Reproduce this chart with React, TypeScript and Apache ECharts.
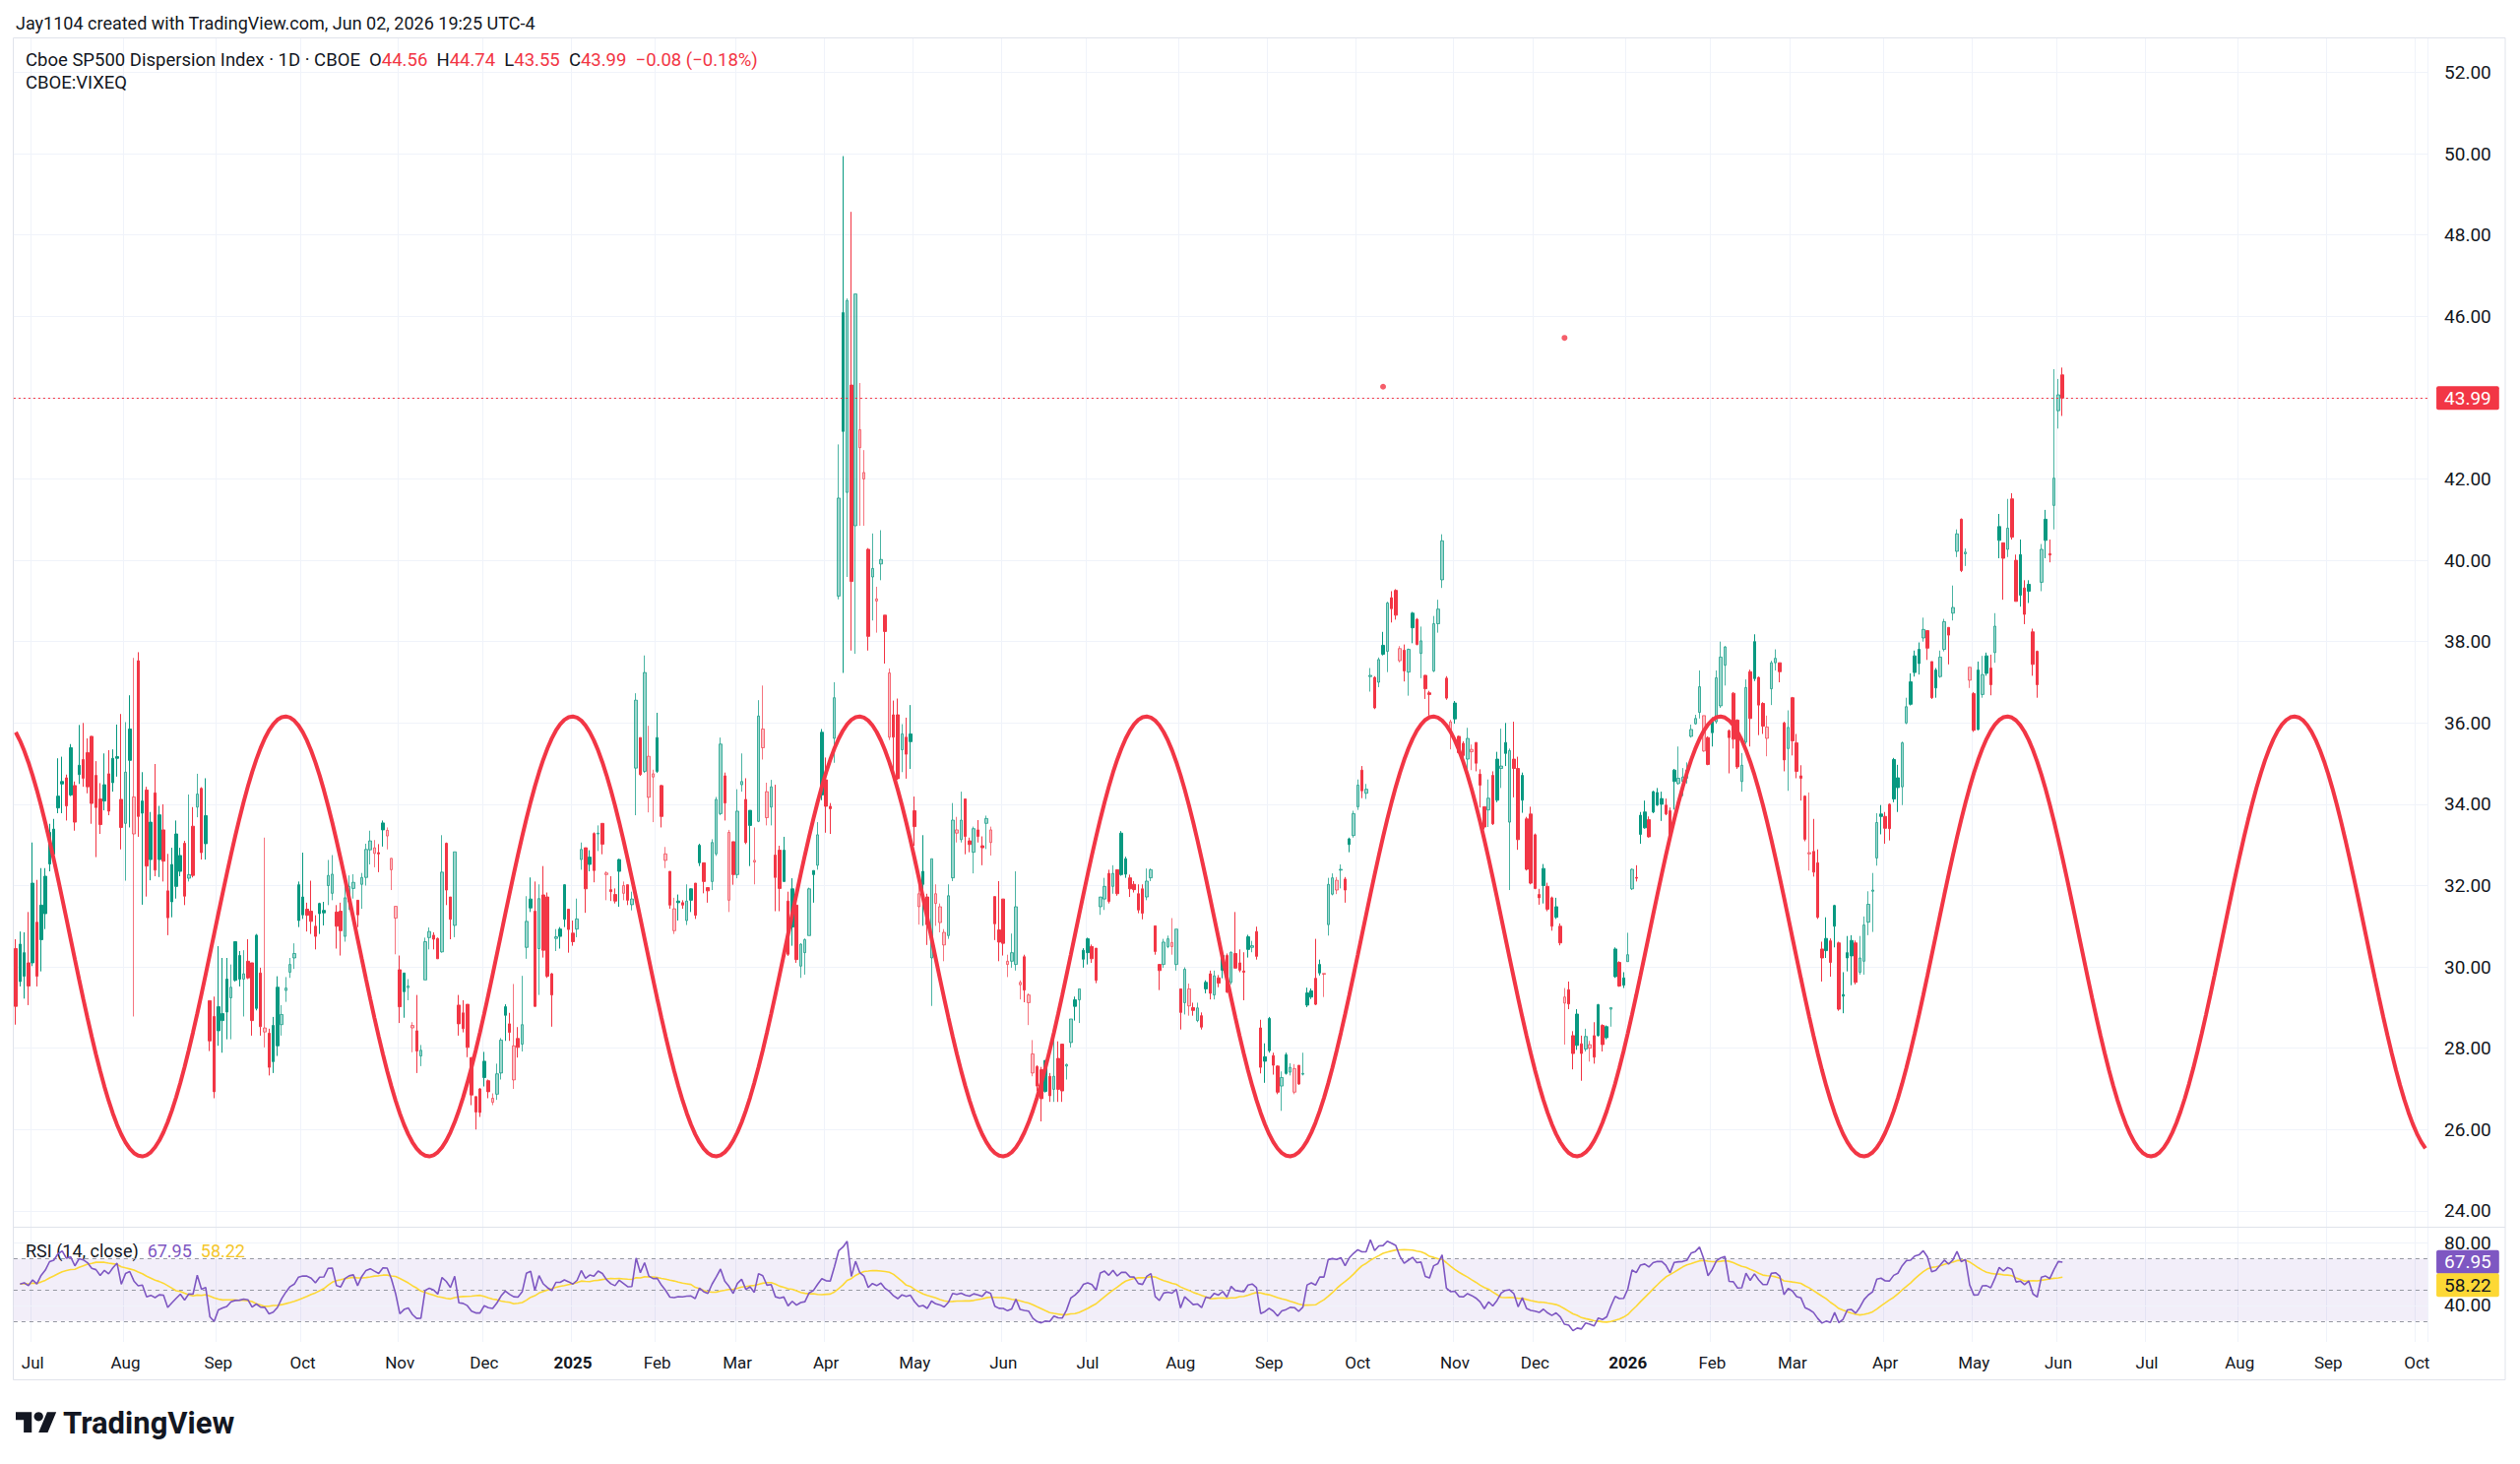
import React, { useEffect, useRef } from "react";
import * as echarts from "echarts";

// ---------- styling constants ----------
const FONT = "Roboto, 'Liberation Sans', Arial, sans-serif";
const TEXT = "#131722";
const UP = "#089981";
const DOWN = "#F23645";
const UP_LIGHT = "rgba(8,153,129,0.72)";
const DOWN_LIGHT = "rgba(242,54,69,0.68)";
const UP_FILL = "rgba(8,153,129,0.4)";
const DOWN_FILL = "rgba(242,54,69,0.32)";
const GRID_COLOR = "#F0F3FA";
const RSI_COLOR = "#7E57C2";
const RSI_MA_COLOR = "#FDD835";

// ---------- calendar ----------
const START_DATE = "2024-06-25";
const END_DATE = "2026-10-05";
const HOLIDAYS = [
  "2024-07-04", "2024-09-02", "2024-11-28", "2024-12-25",
  "2025-01-01", "2025-01-09", "2025-01-20", "2025-02-17", "2025-04-18", "2025-05-26",
  "2025-06-19", "2025-07-04", "2025-09-01", "2025-11-27", "2025-12-25",
  "2026-01-01", "2026-01-19", "2026-02-16", "2026-04-03", "2026-05-25", "2026-06-19",
  "2026-07-03", "2026-09-07",
];
const MONTHS = ["Jan", "Feb", "Mar", "Apr", "May", "Jun", "Jul", "Aug", "Sep", "Oct", "Nov", "Dec"];

// ---------- daily OHLC, CBOE:VIXEQ, from 2024-06-25 to 2026-06-02 ----------
const opens = [
  30.45, 30.56, 30.35, 30.1,
  32.06, 31.1, 31.52, 32.23, 33.31, 33.39, 34.2, 34.56, 34.65, 35.39, 34.46, 34.96, 35.1, 35.27, 35.67, 34.71, 34.13, 34.48, 34.75, 35.13, 35.17, 34.12,
  33.53, 35.85, 33.27, 37.53, 34.08, 34.35, 33.56, 34.28, 33.74, 33.37, 31.87, 32.52, 33.27, 32.74, 33.04, 32.18, 33.46, 33.93, 34.39, 33.72, 29.17, 28.78,
  29.02, 28.85, 29.7, 29.24, 30.62, 30.28, 29.7, 30.14, 30.1, 30.78, 29.85, 28.4, 28.37, 28.56, 29.5, 28.58, 29.42, 29.87, 30.22, 32.02,
  31.72, 31.42, 31.37, 31.0, 31.56, 31.39, 32.0, 31.81, 31.35, 31.37, 30.75, 31.6, 31.93, 31.64, 32.03, 32.2, 32.88, 32.79, 32.81, 33.54, 33.22, 32.39, 31.2,
  29.93, 29.85, 29.49, 28.5, 28.43, 27.81, 29.68, 30.72, 30.78, 30.7, 30.37, 33.04, 31.72, 31.02, 29.06, 28.87, 29.08, 27.77, 26.81, 27.0,
  27.68, 27.2, 26.67, 26.87, 27.39, 29.02, 28.6, 27.22, 28.24, 28.1, 30.48, 31.67, 31.37, 30.45, 31.77, 31.72, 29.83, 30.7, 30.93, 32.02, 31.42,
  30.83, 30.93, 32.64, 32.93, 32.7, 33.28, 33.27, 33.53, 32.27, 31.9, 31.78, 32.64, 31.81, 32.02, 31.53, 34.89, 35.64, 34.81, 34.17, 34.67,
  35.64, 34.46, 32.62, 32.35, 30.89, 31.62, 31.58, 31.14, 31.92, 32.06, 32.99, 32.56, 31.95, 32.1, 32.78, 33.77, 34.7, 31.64, 33.08,
  32.27, 34.48, 34.12, 33.85, 32.58, 33.58, 35.39, 33.67, 33.93, 32.75, 32.87, 32.87, 31.62, 31.92, 31.52, 30.02, 30.35, 30.77, 32.37, 32.5, 35.77,
  34.6, 33.95, 35.62, 39.12, 46.09, 41.67, 44.31, 40.85, 42.77, 42.0, 40.27, 39.59, 39.0, 39.91, 38.65, 35.65, 36.2, 36.2, 35.34, 35.65, 35.73,
  33.84, 31.48, 32.35, 31.72, 30.22, 31.56, 31.09, 30.54, 30.77, 32.19, 33.29, 33.13, 34.13, 33.1, 32.82, 33.37, 32.98, 33.53, 33.06, 31.73, 30.91,
  31.67, 30.06, 30.14, 30.06, 29.56, 30.25, 29.12, 27.39, 27.55, 27.47, 27.7, 27.31, 26.99, 27.75, 28.1, 27.56, 28.14, 29.19, 29.19, 30.41,
  30.69, 30.5, 30.46, 31.48, 31.67, 32.3, 31.98, 32.39, 33.29, 32.66, 32.19, 32.03, 31.8, 31.92, 31.72, 32.19, 31.01, 30.06, 30.06, 30.5, 30.5, 30.06,
  29.46, 29.12, 29.04, 29.0, 28.68, 28.8, 29.62, 29.83, 29.31, 29.73, 30.28, 30.28, 29.62, 30.33, 30.1, 29.9, 30.74, 30.48, 30.87, 28.5, 27.79,
  28.73, 27.82, 27.56, 27.07, 27.84, 27.41, 26.92, 27.58, 27.36, 29.36, 29.41, 29.72, 30.06, 29.82, 31.04, 31.79, 31.89, 32.38, 32.16, 33.15, 33.23,
  33.94, 34.84, 34.27, 37.14, 37.12, 37.0, 37.91, 37.76, 39.08, 39.26, 37.53, 37.79, 37.25, 38.7, 38.55, 37.71, 37.17, 36.74, 37.28, 38.44, 39.52, 37.1, 35.83,
  36.49, 35.67, 35.5, 35.11, 35.29, 35.52, 34.74, 33.94, 33.86, 34.71, 35.11, 34.88, 35.52, 33.56, 35.11, 34.88, 34.71, 33.64, 33.76,
  33.25, 31.78, 32.42, 31.98, 31.7, 31.48, 31.0, 29.11, 29.44, 28.31, 28.84, 28.11, 27.98, 28.0, 28.31, 29.07, 28.56, 28.53, 28.96, 30.44, 30.11, 29.73,
  30.13, 31.92, 32.2, 33.73, 33.81, 33.62, 34.31, 34.29, 34.14, 33.98, 33.84, 34.84, 34.51, 34.56, 34.64, 35.67, 35.98, 36.26, 35.31, 35.64,
  36.03, 36.03, 36.42, 37.42, 35.81, 36.73, 36.07, 34.56, 35.53, 37.26, 38.0, 37.12, 36.48, 35.62, 36.84, 37.48, 37.48, 36.0, 35.37,
  36.62, 35.51, 34.7, 34.2, 32.78, 32.84, 32.56, 30.44, 30.7, 30.64, 31.51, 30.59, 29.32, 30.35, 30.65, 30.59, 29.87, 30.14, 31.1, 31.86, 32.68, 33.76,
  33.7, 34.0, 35.1, 34.65, 34.43, 36.0, 37.01, 37.65, 37.81, 38.09, 38.27, 37.51, 37.3, 37.14, 37.81, 38.35, 38.7, 40.22, 41.01, 40.16, 37.05,
  36.72, 37.3, 36.7, 37.65, 37.35, 37.73, 40.83, 40.43, 40.27, 41.51, 40.0, 40.14, 39.32, 39.41, 38.24, 37.76, 39.46, 41.01, 40.16, 41.35,
  43.68, 44.56,
];

const highs = [
  30.68, 30.87, 30.85, 31.35,
  33.06, 32.14, 32.43, 32.43, 33.52, 33.64, 35.13, 35.17, 34.73, 35.48, 34.56, 35.95, 36.0, 35.62, 35.68, 35.06, 34.52, 35.25, 35.33, 35.35, 35.96, 36.22,
  36.02, 36.68, 37.6, 37.74, 34.79, 34.43, 33.81, 34.99, 33.96, 34.0, 32.78, 32.93, 33.6, 32.93, 33.1, 34.24, 33.93, 34.75, 34.42, 34.64, 29.17, 29.27,
  30.51, 30.22, 30.22, 30.06, 30.62, 30.39, 30.41, 30.68, 30.1, 30.81, 29.98, 33.18, 28.48, 28.77, 29.77, 29.06, 29.75, 30.22, 30.58, 32.1,
  32.81, 31.58, 32.12, 31.27, 31.58, 31.6, 32.63, 32.75, 31.52, 31.58, 32.0, 32.25, 32.28, 31.64, 32.31, 33.03, 33.35, 33.12, 33.02, 33.6, 33.43, 32.68, 31.49,
  30.28, 29.85, 29.7, 28.64, 29.31, 28.08, 30.72, 30.97, 30.85, 30.72, 33.24, 33.06, 31.72, 32.83, 29.31, 29.18, 29.08, 27.77, 26.81, 27.02,
  27.91, 27.23, 26.89, 27.62, 28.25, 29.08, 28.87, 29.58, 28.52, 29.78, 31.74, 32.2, 32.1, 32.03, 32.48, 31.83, 29.85, 30.93, 30.98, 32.03, 31.43,
  31.14, 31.68, 33.06, 32.93, 32.87, 33.31, 33.48, 33.53, 32.35, 32.23, 31.93, 32.66, 32.1, 32.02, 31.85, 36.73, 35.64, 37.66, 35.93, 34.85,
  36.25, 34.48, 32.95, 32.35, 31.7, 31.78, 31.64, 32.03, 31.93, 32.06, 33.03, 32.56, 31.95, 33.14, 34.18, 35.64, 34.78, 33.37, 33.08,
  34.37, 35.25, 34.64, 33.85, 33.43, 36.56, 36.92, 34.53, 34.6, 34.48, 32.98, 33.2, 31.85, 32.18, 31.52, 30.58, 30.7, 31.95, 32.37, 33.56, 35.85,
  35.15, 34.03, 37.0, 42.85, 49.94, 46.44, 48.57, 46.55, 44.36, 42.71, 40.3, 40.66, 39.35, 40.74, 38.65, 37.34, 36.55, 36.6, 35.97, 36.13, 36.44,
  34.19, 32.03, 33.24, 31.8, 32.66, 32.03, 31.56, 30.93, 32.03, 34.03, 33.69, 34.31, 34.13, 33.18, 33.45, 33.61, 33.21, 33.72, 33.45, 31.73, 32.11,
  31.67, 30.3, 30.82, 32.35, 29.67, 30.3, 29.35, 28.2, 27.58, 27.54, 27.7, 27.39, 28.33, 28.17, 28.1, 27.62, 28.72, 29.27, 29.46, 30.46,
  30.72, 30.55, 30.46, 31.72, 32.19, 32.39, 32.5, 32.4, 33.34, 32.71, 32.27, 32.11, 32.03, 32.03, 32.42, 32.42, 31.01, 30.06, 30.69, 30.77, 31.2, 30.93,
  29.46, 29.99, 29.59, 29.12, 29.12, 28.88, 29.67, 29.91, 29.91, 29.8, 30.33, 30.33, 30.38, 31.35, 30.43, 30.36, 30.79, 30.64, 30.99, 28.7, 28.12,
  28.77, 27.89, 27.58, 27.43, 27.89, 27.63, 27.61, 27.58, 27.89, 29.49, 29.47, 30.69, 30.18, 29.84, 32.19, 32.3, 32.21, 32.52, 32.21, 33.18, 33.84,
  34.61, 34.94, 34.5, 37.35, 37.15, 37.61, 38.24, 38.98, 39.24, 39.29, 37.89, 37.93, 37.83, 38.73, 38.58, 38.37, 37.18, 36.79, 38.63, 39.03, 40.64, 37.15, 36.08,
  36.54, 35.69, 35.55, 35.88, 35.47, 35.52, 34.86, 33.94, 34.61, 34.81, 35.29, 35.86, 36.0, 35.37, 36.03, 35.17, 34.78, 33.69, 33.94,
  33.28, 31.92, 32.53, 32.07, 31.73, 31.7, 31.07, 29.48, 29.64, 28.42, 28.96, 28.31, 28.48, 28.18, 28.64, 29.09, 28.59, 28.56, 29.0, 30.48, 30.14, 29.87,
  30.84, 32.42, 32.5, 33.81, 34.09, 33.7, 34.33, 34.4, 34.31, 34.14, 33.92, 34.87, 35.42, 34.89, 35.03, 35.96, 36.2, 37.29, 36.18, 35.67,
  36.14, 37.29, 38.0, 37.89, 35.84, 36.76, 36.09, 35.26, 37.07, 37.31, 38.18, 37.14, 36.51, 36.18, 37.53, 37.81, 37.48, 36.03, 36.31,
  36.64, 35.73, 34.96, 34.22, 34.29, 33.64, 32.89, 30.62, 31.22, 30.7, 31.53, 30.62, 29.87, 30.76, 30.78, 30.65, 30.76, 31.24, 31.86, 32.31, 33.78, 33.98,
  33.81, 34.02, 35.14, 34.97, 35.54, 36.62, 37.22, 37.78, 37.98, 38.59, 38.27, 37.51, 37.35, 37.78, 38.56, 38.35, 39.38, 40.76, 41.03, 40.29, 37.37,
  36.76, 37.51, 37.65, 37.73, 37.68, 38.7, 41.14, 40.43, 41.51, 41.65, 40.14, 40.51, 39.51, 39.51, 38.32, 37.78, 40.4, 41.24, 40.51, 44.7,
  44.46, 44.74,
];

const lows = [
  28.58, 29.52, 29.22, 29.06,
  30.02, 29.52, 29.89, 30.93, 32.35, 32.73, 33.78, 33.78, 33.6, 34.2, 33.35, 34.5, 34.43, 34.27, 33.52, 32.7, 33.27, 33.85, 33.73, 34.31, 34.68, 32.89,
  32.12, 33.43, 28.78, 33.2, 31.53, 31.73, 32.13, 32.23, 32.21, 32.1, 30.78, 31.22, 31.68, 32.23, 31.52, 32.1, 32.2, 33.68, 32.64, 32.64, 27.93, 26.77,
  28.06, 27.89, 28.22, 28.22, 29.64, 29.52, 28.78, 29.7, 28.31, 28.93, 28.31, 28.02, 27.33, 27.39, 27.81, 28.31, 29.14, 29.73, 29.95, 30.98,
  31.18, 30.87, 30.81, 30.43, 30.81, 31.02, 31.52, 31.64, 30.45, 30.28, 30.62, 31.4, 31.68, 30.98, 31.43, 32.0, 32.52, 32.45, 32.33, 32.96, 32.89, 31.89, 30.31,
  28.62, 28.75, 29.18, 27.9, 27.39, 27.56, 29.68, 30.43, 30.43, 30.2, 30.35, 31.52, 30.68, 30.73, 28.31, 28.39, 27.78, 26.6, 26.0, 26.31,
  27.06, 26.77, 26.6, 26.73, 27.23, 28.18, 28.18, 27.0, 27.77, 27.92, 30.2, 31.35, 29.02, 29.31, 30.23, 29.73, 28.53, 30.39, 30.45, 30.98, 30.35,
  30.52, 30.73, 32.39, 31.33, 32.35, 32.08, 32.85, 32.77, 31.64, 31.62, 31.56, 31.48, 31.64, 31.52, 31.39, 33.73, 34.7, 34.77, 33.8, 33.56,
  34.77, 33.43, 32.43, 31.43, 30.81, 31.14, 31.43, 31.03, 31.35, 31.18, 32.48, 31.81, 31.58, 31.89, 32.73, 33.73, 33.6, 31.35, 32.02,
  32.18, 34.31, 33.02, 32.48, 32.03, 33.56, 35.1, 33.48, 33.48, 31.37, 31.37, 32.1, 30.27, 30.52, 30.1, 29.73, 29.81, 30.77, 31.58, 32.39, 34.1,
  33.3, 33.27, 35.02, 39.04, 37.23, 39.59, 37.78, 37.7, 40.85, 40.85, 37.78, 38.52, 38.22, 39.51, 37.46, 35.58, 34.63, 34.6, 34.79, 34.63, 34.87,
  32.98, 31.04, 31.01, 30.54, 29.04, 31.01, 30.85, 30.14, 30.69, 32.11, 33.06, 33.06, 32.77, 32.82, 32.3, 33.06, 32.5, 32.9, 32.74, 30.66, 30.14,
  30.28, 29.75, 29.98, 29.91, 29.2, 29.13, 28.57, 27.31, 26.94, 26.2, 26.91, 26.68, 26.68, 26.68, 26.68, 27.23, 28.02, 28.68, 28.62, 29.98,
  30.06, 30.1, 29.6, 31.28, 31.4, 31.56, 31.8, 31.75, 32.24, 32.19, 31.72, 31.83, 31.32, 31.17, 31.64, 32.11, 30.3, 29.43, 29.98, 30.46, 30.3, 29.91,
  28.46, 28.83, 28.8, 28.8, 28.64, 28.46, 29.35, 29.2, 29.2, 29.5, 29.72, 29.36, 29.57, 29.97, 29.87, 29.18, 30.23, 30.36, 30.18, 27.38, 27.15,
  27.89, 27.35, 26.87, 26.46, 27.35, 27.33, 26.87, 27.1, 27.33, 29.01, 29.21, 29.06, 29.79, 29.26, 30.77, 31.76, 31.79, 31.93, 31.58, 32.82, 33.18,
  33.86, 34.15, 34.13, 36.77, 36.34, 36.88, 37.66, 37.25, 38.47, 38.54, 37.49, 37.02, 36.67, 37.96, 37.91, 37.1, 36.59, 36.18, 37.25, 38.22, 39.32, 36.57, 35.35,
  35.98, 35.25, 35.0, 34.86, 34.84, 34.81, 33.92, 33.38, 33.44, 33.49, 34.05, 34.4, 34.94, 31.89, 34.17, 32.88, 33.79, 32.37, 32.03,
  31.91, 31.53, 31.56, 31.37, 30.89, 31.18, 30.53, 28.09, 28.96, 27.48, 27.96, 27.2, 27.92, 27.67, 27.62, 28.29, 27.92, 28.22, 28.53, 29.73, 29.51, 29.48,
  30.13, 31.89, 32.1, 33.03, 33.4, 33.18, 33.78, 33.96, 33.59, 33.73, 33.14, 33.87, 34.48, 34.2, 34.51, 35.64, 35.96, 36.11, 35.29, 34.96,
  35.42, 35.98, 36.37, 36.92, 34.76, 35.37, 34.87, 34.31, 35.48, 35.42, 37.03, 35.7, 35.73, 35.18, 36.44, 37.29, 37.0, 34.81, 34.33,
  35.2, 34.64, 34.09, 33.09, 32.37, 32.22, 31.18, 29.64, 30.22, 29.76, 30.48, 28.92, 28.86, 29.89, 29.55, 29.57, 29.81, 29.81, 30.78, 30.86, 32.49, 33.26,
  33.03, 33.11, 34.05, 33.81, 33.98, 35.97, 36.43, 37.14, 37.19, 38.0, 37.55, 36.59, 36.62, 37.11, 37.76, 37.44, 38.52, 40.08, 39.71, 39.86, 36.86,
  35.78, 35.82, 36.62, 37.16, 36.68, 37.48, 40.05, 39.03, 40.08, 40.51, 38.99, 38.86, 38.43, 38.95, 37.16, 36.62, 39.24, 40.05, 39.95, 40.76,
  43.24, 43.55,
];

const closes = [
  29.03, 29.64, 29.77, 29.53,
  30.1, 29.77, 30.67, 31.31, 32.53, 32.77, 33.91, 34.5, 33.96, 34.23, 33.56, 34.73, 34.64, 34.43, 34.02, 33.92, 33.5, 34.08, 33.83, 34.53, 35.13, 33.43,
  34.79, 35.08, 34.18, 33.7, 33.78, 32.48, 32.64, 32.38, 32.64, 32.6, 31.21, 31.6, 31.98, 32.35, 31.74, 32.27, 32.25, 34.25, 32.81, 33.03, 28.18, 26.93,
  28.43, 28.68, 28.89, 29.5, 29.67, 29.7, 29.83, 29.73, 28.68, 28.98, 28.53, 28.5, 27.53, 27.67, 28.06, 28.83, 29.48, 30.06, 30.33, 31.14,
  31.28, 31.27, 31.12, 30.75, 31.31, 31.33, 32.25, 32.28, 31.0, 30.89, 31.7, 31.98, 32.08, 31.28, 32.2, 32.89, 33.1, 32.93, 32.78, 33.37, 33.36, 32.67, 31.49,
  29.02, 29.39, 29.53, 28.56, 27.93, 27.95, 30.62, 30.87, 30.68, 30.2, 32.33, 31.89, 31.17, 32.83, 28.6, 28.48, 28.02, 26.85, 26.43, 26.42,
  27.28, 26.93, 26.77, 27.37, 28.2, 28.81, 28.39, 28.06, 28.02, 28.58, 31.12, 31.45, 29.03, 31.68, 30.41, 29.77, 29.31, 30.74, 30.75, 31.17, 30.92,
  30.62, 31.18, 32.89, 31.92, 32.52, 32.37, 33.29, 33.02, 32.31, 31.85, 31.62, 32.35, 32.0, 31.64, 31.67, 36.56, 34.73, 37.24, 35.18, 34.75,
  34.81, 33.7, 32.78, 31.52, 31.43, 31.58, 31.52, 31.62, 31.64, 31.27, 32.56, 32.1, 31.87, 33.06, 34.12, 35.48, 34.03, 33.31, 32.27,
  33.83, 34.56, 33.06, 33.48, 32.62, 36.17, 35.85, 34.31, 34.43, 32.2, 31.93, 32.1, 30.31, 30.98, 30.18, 30.56, 30.67, 31.92, 32.27, 33.25, 34.23,
  33.95, 33.89, 36.62, 41.53, 43.17, 46.39, 39.48, 46.55, 43.21, 42.16, 38.13, 39.8, 39.05, 40.02, 38.25, 37.23, 35.65, 34.63, 35.73, 35.23, 35.54,
  33.45, 31.8, 32.03, 31.04, 32.66, 31.8, 31.48, 30.85, 31.75, 33.61, 33.37, 33.61, 33.21, 33.01, 33.4, 33.21, 32.93, 33.65, 33.37, 31.06, 30.61,
  30.58, 30.14, 30.35, 31.48, 29.62, 29.43, 29.31, 27.86, 27.07, 26.76, 26.94, 26.83, 27.31, 26.99, 26.95, 27.6, 28.72, 29.03, 29.46, 30.19,
  30.35, 30.2, 29.67, 31.72, 31.98, 31.61, 32.3, 31.8, 32.27, 32.28, 31.92, 31.9, 31.4, 31.32, 32.11, 32.39, 30.38, 29.91, 30.61, 30.69, 30.6, 30.93,
  28.88, 29.94, 29.46, 28.93, 28.99, 28.52, 29.46, 29.35, 29.78, 29.6, 29.92, 29.38, 30.36, 29.97, 29.92, 29.87, 30.43, 30.52, 30.26, 27.53, 27.68,
  27.94, 27.58, 26.92, 27.28, 27.38, 27.53, 27.5, 27.12, 27.38, 29.06, 29.26, 29.08, 29.85, 29.84, 32.03, 32.19, 32.13, 32.4, 31.89, 33.01, 33.77,
  34.47, 34.33, 34.37, 37.17, 36.37, 37.56, 37.69, 38.95, 38.81, 38.65, 37.83, 37.28, 37.81, 38.34, 37.93, 38.02, 36.84, 36.7, 38.44, 38.8, 40.48, 36.61, 36.03,
  36.1, 35.27, 35.2, 35.62, 35.35, 35.01, 34.47, 33.44, 34.15, 33.52, 34.1, 34.94, 35.25, 35.32, 34.88, 33.13, 34.1, 32.4, 32.06,
  31.93, 31.7, 32.0, 31.42, 31.0, 31.22, 30.59, 29.26, 29.09, 27.87, 28.07, 27.87, 28.29, 28.09, 27.78, 28.31, 28.09, 28.26, 29.0, 29.76, 29.53, 29.55,
  30.3, 32.4, 32.18, 33.26, 33.42, 33.2, 33.81, 33.98, 34.0, 33.76, 33.26, 34.56, 34.64, 34.67, 34.84, 35.84, 36.11, 36.89, 36.18, 34.98,
  35.76, 37.11, 37.62, 37.87, 35.64, 35.6, 34.92, 34.96, 36.87, 36.11, 37.09, 36.44, 35.92, 35.9, 37.48, 37.59, 37.26, 35.09, 35.89,
  35.56, 34.81, 34.64, 33.14, 32.81, 32.33, 31.22, 30.22, 30.4, 30.11, 31.0, 28.96, 29.28, 30.22, 30.27, 29.62, 30.22, 31.03, 31.54, 31.89, 33.55, 33.7,
  33.41, 33.4, 34.13, 34.41, 35.51, 36.4, 36.46, 37.24, 37.46, 38.3, 37.84, 36.62, 36.86, 37.62, 38.49, 38.16, 38.84, 40.65, 39.75, 40.2, 37.37,
  35.82, 35.84, 37.19, 37.22, 36.94, 38.38, 40.49, 40.05, 40.79, 40.57, 38.99, 39.14, 38.67, 39.24, 37.44, 36.94, 40.27, 40.49, 40.13, 42.02,
  44.07, 43.99,
];

// isolated red dots above the candles
const dotDates = ["2025-10-09", "2025-12-10"];
const dotValues = [44.27, 45.47];

// sine-wave drawing (anchored on its crests)
const SINE_CREST_BAR = 63.88;
const SINE_PERIOD_BARS = 68.01;
const SINE_HIGH = 36.16;
const SINE_LOW = 25.34;

// RSI pane
const RSI_LENGTH = 14;
const RSI_MA_LENGTH = 14;
const RSI_LAST = 67.95;
const RSI_MA_LAST = 58.22;

// axis ticks (44.00 is covered by the last-price tag)
const priceGridTicks = [24, 26, 28, 30, 32, 34, 36, 38, 40, 42, 44, 46, 48, 50, 52];
const priceLabelTicks = [24, 26, 28, 30, 32, 34, 36, 38, 40, 42, 46, 48, 50, 52];
const rsiTicks = [40, 80];
const rsiLevels = [70, 50, 30];

const TV_LOGO_PATH = "M14 22H7V11H0V4h14v18zM28 22h-8l7.5-18h8L28 22z";
echarts.graphic.registerShape("tvlogo", echarts.graphic.extendPath(TV_LOGO_PATH, {}));

// ---------- layout ----------
const W = 2560;
const H = 1487;
const GRID_LEFT = 13.9;
const BAR_STEP = 4.287;
const PANE_TOP = 38;
const PANE_SPLIT = 1246;
const RSI_BOTTOM = 1363;
const FRAME_RIGHT = 2545;
const FRAME_BOTTOM = 1401.5;

function buildDates(): string[] {
  const out: string[] = [];
  const hol = new Set(HOLIDAYS);
  const [sy, sm, sd] = START_DATE.split("-").map(Number);
  const [ey, em, ed] = END_DATE.split("-").map(Number);
  const end = Date.UTC(ey, em - 1, ed);
  for (let t = Date.UTC(sy, sm - 1, sd); t <= end; t += 86400000) {
    const d = new Date(t);
    const wd = d.getUTCDay();
    if (wd === 0 || wd === 6) continue;
    const s = d.toISOString().slice(0, 10);
    if (hol.has(s)) continue;
    out.push(s);
  }
  return out;
}

// Wilder RSI; the averages start neutral (equal gain / loss) since no earlier history is available
function rsiSeries(values: number[], length: number): (number | null)[] {
  const out: (number | null)[] = [null];
  let absSum = 0;
  const warm = Math.min(length, values.length - 1);
  for (let i = 1; i <= warm; i++) absSum += Math.abs(values[i] - values[i - 1]);
  let g = absSum / warm / 2;
  let l = g;
  for (let i = 1; i < values.length; i++) {
    const ch = values[i] - values[i - 1];
    g += (Math.max(ch, 0) - g) / length;
    l += (Math.max(-ch, 0) - l) / length;
    out.push(l === 0 ? 100 : +(100 - 100 / (1 + g / l)).toFixed(3));
  }
  return out;
}

function smaSeries(values: (number | null)[], length: number): (number | null)[] {
  return values.map((_, i) => {
    const win = values.slice(Math.max(0, i - length + 1), i + 1).filter((v) => v != null) as number[];
    if (!win.length) return null;
    return +(win.reduce((a, b) => a + b, 0) / win.length).toFixed(3);
  });
}

export default function App() {
  const ref = useRef<HTMLDivElement>(null);

  useEffect(() => {
    if (!ref.current) return;
    const chart = echarts.init(ref.current, null, { renderer: "svg", width: W, height: H });

    const dates = buildDates();
    const n = dates.length;
    const gridWidth = n * BAR_STEP;
    const monthStart = dates.map((d, i) => i > 0 && d.slice(0, 7) !== dates[i - 1].slice(0, 7));

    const candleData = closes.map((c, i) => {
      const o = opens[i];
      const prev = i > 0 ? closes[i - 1] : o;
      const rising = c >= prev;
      const hollow = c > o;
      const fill = hollow ? (rising ? UP_FILL : DOWN_FILL) : rising ? UP : DOWN;
      const border = hollow ? (rising ? UP_LIGHT : DOWN_LIGHT) : rising ? UP : DOWN;
      return {
        value: [o, c, lows[i], highs[i]],
        itemStyle: { color: fill, color0: fill, borderColor: border, borderColor0: border },
      };
    });

    const mid = (SINE_HIGH + SINE_LOW) / 2;
    const amp = (SINE_HIGH - SINE_LOW) / 2;
    const sineData = dates.map((_, i) => +(mid + amp * Math.cos((2 * Math.PI * (i - SINE_CREST_BAR)) / SINE_PERIOD_BARS)).toFixed(3));

    const rsi = rsiSeries(closes, RSI_LENGTH);
    const rsiMa = smaSeries(rsi, RSI_MA_LENGTH);

    const last = closes.length - 1;
    const lastClose = closes[last];
    const change = closes[last] - closes[last - 1];
    const changePct = (change / closes[last - 1]) * 100;
    const sign = (v: number) => (v < 0 ? "\u2212" : "+") + Math.abs(v).toFixed(2);

    const monthLabel = (value: string) => {
      const m = Number(value.slice(5, 7));
      return m === 1 ? `{y|${value.slice(0, 4)}}` : MONTHS[m - 1];
    };

    const xBase = {
      type: "category",
      data: dates,
      boundaryGap: true,
      axisLine: { show: false },
      axisTick: { show: false },
      splitLine: {
        show: true,
        interval: (i: number) => monthStart[i],
        lineStyle: { color: GRID_COLOR, width: 1 },
      },
    };

    const priceLabel = {
      fontSize: 19,
      fontFamily: FONT,
      color: TEXT,
      margin: 17,
      align: "left",
      formatter: (v: number) => v.toFixed(2),
    };

    const option: any = {
      animation: false,
      backgroundColor: "#ffffff",
      textStyle: { fontFamily: FONT },
      grid: [
        { left: GRID_LEFT, top: PANE_TOP, width: gridWidth, height: PANE_SPLIT - PANE_TOP, outerBoundsMode: "none", containLabel: false },
        { left: GRID_LEFT, top: PANE_SPLIT, width: gridWidth, height: RSI_BOTTOM - PANE_SPLIT, outerBoundsMode: "none", containLabel: false },
      ],
      xAxis: [
        { ...xBase, gridIndex: 0, axisLabel: { show: false } },
        {
          ...xBase,
          gridIndex: 1,
          axisLabel: {
            show: true,
            interval: (i: number) => monthStart[i],
            formatter: monthLabel,
            fontSize: 17,
            fontFamily: FONT,
            color: TEXT,
            margin: 12,
            rich: { y: { fontSize: 17, fontFamily: FONT, fontWeight: "bold", color: TEXT } },
          },
        },
      ],
      yAxis: [
        {
          type: "value",
          gridIndex: 0,
          position: "right",
          min: 23.61,
          max: 52.86,
          axisLine: { show: false },
          axisTick: { show: false },
          splitLine: { show: false },
          axisLabel: { ...priceLabel, customValues: priceLabelTicks },
        },
        {
          type: "value",
          gridIndex: 1,
          position: "right",
          min: 16.62,
          max: 90.55,
          axisLine: { show: false },
          axisTick: { show: false },
          splitLine: { show: false },
          axisLabel: { ...priceLabel, customValues: rsiTicks },
        },
      ],
      series: [
        {
          name: "VIXEQ",
          type: "candlestick",
          xAxisIndex: 0,
          yAxisIndex: 0,
          barWidth: 3,
          itemStyle: { borderWidth: 1 },
          data: candleData,
          markLine: {
            silent: true,
            symbol: ["none", "none"],
            z: 5,
            label: { show: false },
            lineStyle: { color: DOWN, type: [2, 3], width: 1 },
            data: [{ yAxis: lastClose }],
          },
        },
        {
          name: "Sine",
          type: "line",
          xAxisIndex: 0,
          yAxisIndex: 0,
          data: sineData,
          showSymbol: false,
          symbol: "none",
          z: 4,
          lineStyle: { color: DOWN, width: 4 },
          markLine: {
            silent: true,
            symbol: ["none", "none"],
            z: 1,
            label: { show: false },
            lineStyle: { color: GRID_COLOR, type: "solid", width: 1 },
            data: priceGridTicks.map((v) => ({ yAxis: v })),
          },
        },
        {
          name: "Dots",
          type: "scatter",
          xAxisIndex: 0,
          yAxisIndex: 0,
          symbolSize: 6,
          z: 5,
          itemStyle: { color: DOWN },
          data: dotDates.map((d, i) => [d, dotValues[i]]),
        },
        {
          name: "RSI",
          type: "line",
          xAxisIndex: 1,
          yAxisIndex: 1,
          data: rsi,
          showSymbol: false,
          symbol: "none",
          z: 3,
          lineStyle: { color: RSI_COLOR, width: 1.6 },
          markArea: {
            silent: true,
            itemStyle: { color: "rgba(126,87,194,0.1)" },
            data: [[{ yAxis: rsiLevels[2] }, { yAxis: rsiLevels[0] }]],
          },
          markLine: {
            silent: true,
            symbol: ["none", "none"],
            z: 1,
            label: { show: false },
            data: [
              ...rsiLevels.map((v) => ({ yAxis: v, lineStyle: { color: "#9598A1", type: [4, 4], width: 1 } })),
              ...rsiTicks.map((v) => ({ yAxis: v, lineStyle: { color: GRID_COLOR, type: "solid", width: 1 } })),
            ],
          },
        },
        {
          name: "RSI MA",
          type: "line",
          xAxisIndex: 1,
          yAxisIndex: 1,
          data: rsiMa,
          showSymbol: false,
          symbol: "none",
          z: 2,
          lineStyle: { color: RSI_MA_COLOR, width: 1.6 },
        },
      ],
    };

    chart.setOption(option);

    const yPrice = chart.convertToPixel({ yAxisIndex: 0 }, lastClose) as number;
    const yRsi = chart.convertToPixel({ yAxisIndex: 1 }, RSI_LAST) as number;
    const yRsiMa = Math.max(chart.convertToPixel({ yAxisIndex: 1 }, RSI_MA_LAST) as number, yRsi + 23.5);
    const tagX = GRID_LEFT + gridWidth + 9;
    const tagStyle = { fontSize: 19, fontFamily: FONT, padding: [3, 8, 2, 8], verticalAlign: "middle", align: "left", borderRadius: 2 };

    const elements: any[] = [
      {
        type: "rect", id: "frame", silent: true, z: 0,
        shape: { x: 13.5, y: PANE_TOP + 0.5, width: FRAME_RIGHT - 13.5, height: FRAME_BOTTOM - PANE_TOP - 0.5 },
        style: { fill: "none", stroke: "#E0E3EB", lineWidth: 1 },
      },
      {
        type: "line", id: "split", silent: true,
        shape: { x1: 14, y1: PANE_SPLIT + 0.5, x2: FRAME_RIGHT, y2: PANE_SPLIT + 0.5 },
        style: { stroke: "#E0E3EB", lineWidth: 1 },
      },
      {
        type: "text", id: "credit", x: 16, y: 23,
        style: { text: "Jay1104 created with TradingView.com, Jun 02, 2026 19:25 UTC-4", fontSize: 18, fontFamily: FONT, fill: TEXT, verticalAlign: "middle" },
      },
      {
        type: "text", id: "legend", x: 26, y: 61,
        style: {
          text:
            `Cboe SP500 Dispersion Index \u00b7 1D \u00b7 CBOE  O{r|${opens[last].toFixed(2)}}  H{r|${highs[last].toFixed(2)}}  L{r|${lows[last].toFixed(2)}}  C{r|${lastClose.toFixed(2)}}  {r|${sign(change)} (${sign(changePct)}%)}`,
          fontSize: 18.5, fontFamily: FONT, fill: TEXT, verticalAlign: "middle",
          rich: { r: { fill: DOWN, fontSize: 18.5, fontFamily: FONT } },
        },
      },
      {
        type: "text", id: "symbol", x: 26, y: 84,
        style: { text: "CBOE:VIXEQ", fontSize: 18.5, fontFamily: FONT, fill: TEXT, verticalAlign: "middle" },
      },
      {
        type: "text", id: "rsiLegend", x: 26, y: 1270,
        style: {
          text: `RSI (14, close)  {p|${RSI_LAST.toFixed(2)}}  {m|${RSI_MA_LAST.toFixed(2)}}`,
          fontSize: 18, fontFamily: FONT, fill: TEXT, verticalAlign: "middle",
          rich: { p: { fill: RSI_COLOR, fontSize: 18, fontFamily: FONT }, m: { fill: "#F4C62B", fontSize: 18, fontFamily: FONT } },
        },
      },
      {
        type: "text", id: "tagPrice", x: tagX, y: yPrice, z: 10,
        style: { ...tagStyle, text: lastClose.toFixed(2), fill: "#ffffff", backgroundColor: DOWN },
      },
      {
        type: "text", id: "tagRsi", x: tagX, y: yRsi, z: 10,
        style: { ...tagStyle, text: RSI_LAST.toFixed(2), fill: "#ffffff", backgroundColor: RSI_COLOR },
      },
      {
        type: "text", id: "tagRsiMa", x: tagX, y: yRsiMa, z: 10,
        style: { ...tagStyle, text: RSI_MA_LAST.toFixed(2), fill: TEXT, backgroundColor: RSI_MA_COLOR },
      },
      {
        type: "tvlogo", id: "logoMark", x: 16, y: 1429.5, scaleX: 1.16, scaleY: 1.16,
        style: { fill: TEXT },
      },
      {
        type: "circle", id: "logoDot",
        shape: { cx: 16 + 20 * 1.16, cy: 1429.5 + 8 * 1.16, r: 4 * 1.16 },
        style: { fill: TEXT },
      },
      {
        type: "text", id: "logoText", x: 64, y: 1445,
        style: { text: "TradingView", fontSize: 31, fontWeight: "bold", fontFamily: FONT, fill: TEXT, verticalAlign: "middle" },
      },
    ];

    chart.setOption({ graphic: { elements } });

    return () => {
      chart.dispose();
    };
  }, []);

  return (
    <div
      ref={ref}
      style={{ position: "fixed", left: 0, top: 0, width: W, height: H, background: "#ffffff" }}
    />
  );
}
